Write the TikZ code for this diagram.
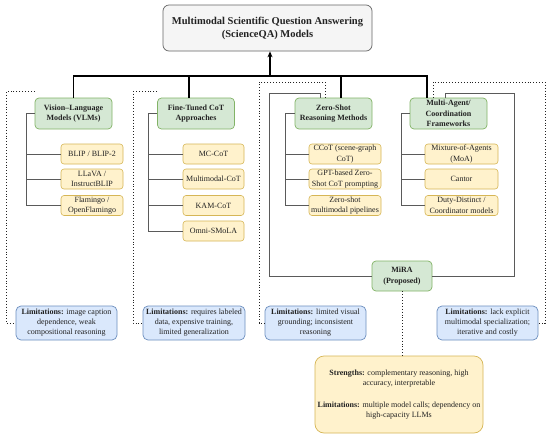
\documentclass[tikz,border=0pt]{standalone}
\usepackage{fontspec}
\setmainfont{Liberation Serif}
\usetikzlibrary{arrows.meta}
\definecolor{gfill}{HTML}{D5E8D4}\definecolor{gdraw}{HTML}{82B366}
\definecolor{yfill}{HTML}{FFF2CC}\definecolor{ydraw}{HTML}{D6B656}
\definecolor{bfill}{HTML}{DAE8FC}\definecolor{bdraw}{HTML}{6C8EBF}
\definecolor{tfill}{HTML}{F5F5F5}\definecolor{tdraw}{HTML}{666666}
\definecolor{txt}{HTML}{222222}
\definecolor{tree}{HTML}{5A5A5A}
\begin{document}
\begin{tikzpicture}[x=1pt,y=-1pt,
  every node/.style={font=\fontsize{8}{10}\selectfont, text=txt, align=center, inner sep=0pt},
  titlebox/.style={draw=tdraw, fill=tfill, rounded corners=6pt, line width=0.7pt, minimum width=209pt, minimum height=46pt, font=\fontsize{10.5}{13}\selectfont\bfseries},
  catbox/.style={draw=gdraw, fill=gfill, rounded corners=4pt, line width=0.7pt, minimum width=77pt, minimum height=31pt, font=\fontsize{8}{10.5}\selectfont\bfseries},
  kidbox/.style={draw=ydraw, fill=yfill, rounded corners=3pt, line width=0.6pt, minimum height=20pt, font=\fontsize{8}{10.5}\selectfont},
  limbox/.style={draw=bdraw, fill=bfill, rounded corners=5pt, line width=0.7pt, minimum width=101pt, minimum height=34pt, font=\fontsize{8}{10}\selectfont},
  strbox/.style={draw=ydraw, fill=yfill, rounded corners=9pt, line width=0.7pt, minimum width=168pt, minimum height=77pt, font=\fontsize{8}{10.5}\selectfont},
  busline/.style={line width=1.6pt, black},
  treeline/.style={line width=0.7pt, tree},
  dotline/.style={line width=0.9pt, dotted, txt},
]
\useasboundingbox[fill=white] (0,0) rectangle (550,440);

% title
\node[titlebox] (title) at (267.5,28) {Multimodal Scientific Question Answering\\(ScienceQA) Models};

% categories
\node[catbox] (vlm) at (73.5,113.5) {Vision–Language\\Models (VLMs)};
\node[catbox] (ft) at (196,113.5) {Fine-Tuned CoT\\Approaches};
\node[catbox] (zs) at (333.5,113.5) {Zero-Shot\\Reasoning Methods};
\node[catbox] (ma) at (448.5,113.5) {Multi-Agent/\\Coordination\\Frameworks};

% bus
\coordinate (bus) at (270,76);
\draw[busline] (vlm.north) |- (bus);
\draw[busline] ([xshift=-7pt]ft.north) |- (bus);
\draw[busline] ([xshift=7.5pt]zs.north) |- (bus);
\draw[busline] ([xshift=-21.5pt]ma.north) |- (bus);
\draw[busline, -{Stealth[length=6pt,width=5pt]}] (bus) -- ([xshift=2.5pt]title.south);

% children VLM
\node[kidbox, minimum width=62pt] (v1) at (92,154) {BLIP / BLIP-2};
\node[kidbox, minimum width=62pt] (v2) at (92,179) {LLaVA /\\InstructBLIP};
\node[kidbox, minimum width=62pt] (v3) at (92,205.5) {Flamingo /\\OpenFlamingo};
% children FT
\node[kidbox, minimum width=61pt] (f1) at (213.5,154) {MC-CoT};
\node[kidbox, minimum width=61pt] (f2) at (213.5,179) {Multimodal-CoT};
\node[kidbox, minimum width=61pt] (f3) at (213.5,205.5) {KAM-CoT};
\node[kidbox, minimum width=61pt] (f4) at (213.5,231) {Omni-SMoLA};
% children ZS
\node[kidbox, minimum width=72pt] (z1) at (345,154) {CCoT (scene-graph\\CoT)};
\node[kidbox, minimum width=72pt] (z2) at (345,179) {GPT-based Zero-\\Shot CoT prompting};
\node[kidbox, minimum width=72pt] (z3) at (345,205.5) {Zero-shot\\multimodal pipelines};
% children MA
\node[kidbox, minimum width=73pt] (m1) at (461.5,154) {Mixture-of-Agents\\(MoA)};
\node[kidbox, minimum width=73pt] (m2) at (461.5,179) {Cantor};
\node[kidbox, minimum width=73pt] (m3) at (461.5,205.5) {Duty-Distinct /\\Coordinator models};

% tree lines
\coordinate (vt) at (26,113.5);
\coordinate (ftt) at (148,113.5);
\coordinate (zt) at (285,113.5);
\coordinate (mt) at (401,113.5);
\foreach \p/\t/\ks in {vlm/vt/{v1,v2,v3}, ft/ftt/{f1,f2,f3,f4}, zs/zt/{z1,z2,z3}, ma/mt/{m1,m2,m3}}{
  \draw[treeline] (\p.west) -- (\t);
  \foreach \k in \ks { \draw[treeline] (\t) |- (\k.west); }
}

% MiRA
\node[catbox, minimum width=60pt, minimum height=30pt] (mira) at (402,276) {MiRA\\(Proposed)};
\draw[treeline] ([xshift=-13.5pt]zs.north) |- (269,93) |- (mira.west);
\draw[treeline] ([xshift=-3.5pt]ma.north) |- (514,93) |- (mira.east);

% limitations
\node[limbox] (l1) at (66.5,323) {\textbf{Limitations:} image caption\\dependence, weak\\compositional reasoning};
\node[limbox, minimum width=102pt] (l2) at (194,323) {\textbf{Limitations:} requires labeled\\data, expensive training,\\limited generalization};
\node[limbox] (l3) at (315.5,323) {\textbf{Limitations:} limited visual\\grounding; inconsistent\\reasoning};
\node[limbox] (l4) at (487.5,323) {\textbf{Limitations:} lack explicit\\multimodal specialization;\\iterative and costly};

% dotted connectors
\draw[dotline] ([yshift=6pt]vlm.north west) -| (6,323) -- (l1.west);
\draw[dotline] ([yshift=6pt]ft.north west) -| (133,323) -- (l2.west);
\draw[dotline] ([xshift=-8.5pt]zs.north) |- (259,82) |- (l3.west);
\draw[dotline] ([xshift=-15.5pt]ma.north) |- (545,82) |- (l4.east);

% strengths
\node[strbox] (str) at (399,394.5) {\textbf{Strengths:} complementary reasoning, high\\accuracy, interpretable\\[11pt]\textbf{Limitations:} multiple model calls; dependency on\\high-capacity LLMs};
\draw[dotline] (mira.south) -- (mira.south |- str.north);
\end{tikzpicture}
\end{document}
